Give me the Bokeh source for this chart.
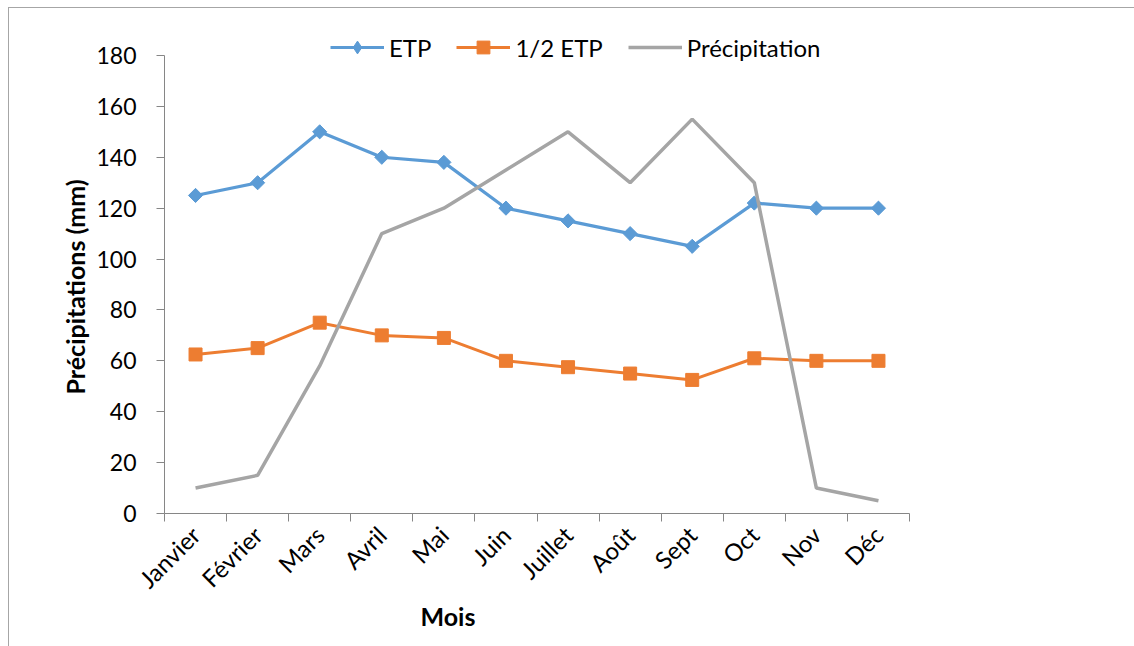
from bokeh.plotting import figure
from bokeh.models import (Range1d, LinearAxis, FixedTicker, Legend, LegendItem, Title,
                          ColumnDataSource)
from bokeh.embed import file_html
from bokeh.resources import INLINE
from math import pi

# Monthly data (mm)
months = ["Janvier", "Février", "Mars", "Avril", "Mai", "Juin",
          "Juillet", "Août", "Sept", "Oct", "Nov", "Déc"]
etp = [125, 130, 150, 140, 138, 120, 115, 110, 105, 122, 120, 120]
half_etp = [62.5, 65, 75, 70, 69, 60, 57.5, 55, 52.5, 61, 60, 60]
precip = [10, 15, 58, 110, 120, 135, 150, 130, 155, 130, 10, 5]
y_ticks = [0, 20, 40, 60, 80, 100, 120, 140, 160, 180]

FONT = "Lato"
BLUE = "#5B9BD5"
ORANGE = "#ED7D31"
GREY = "#A5A5A5"
AXIS = "#868686"

n = len(months)
xs = [i + 0.5 for i in range(n)]          # category centres
edges = [float(i) for i in range(n + 1)]  # category boundaries
src = ColumnDataSource(dict(x=xs, etp=etp, half=half_etp, pr=precip))

# The plotting frame reaches above the top tick so the legend sits inside it;
# the y axis line itself stops at the top tick.
Y_MAX = y_ticks[-1]
FRAME_TOP, AXIS_TOP, FRAME_BOTTOM = 17, 47, 505   # px inside the canvas
y_end = Y_MAX * (FRAME_BOTTOM - FRAME_TOP) / (FRAME_BOTTOM - AXIS_TOP)

p = figure(width=1126, height=639,
           x_range=Range1d(0, n), y_range=Range1d(0, y_end),
           output_backend="svg", toolbar_location=None,
           x_axis_location=None, y_axis_location=None,
           min_border_left=155, min_border_right=226,
           min_border_top=FRAME_TOP, min_border_bottom=639 - FRAME_BOTTOM)
p.margin = (7, 0, 0, 8)
p.styles = {"border-top": "1px solid #a6a6a6", "border-left": "1px solid #a6a6a6"}
p.outline_line_color = None
p.xgrid.visible = False
p.ygrid.visible = False
p.background_fill_color = "white"
p.border_fill_color = "white"

# y axis
yaxis = LinearAxis(ticker=FixedTicker(ticks=y_ticks), bounds=(0, Y_MAX))
yaxis.axis_line_color = AXIS
yaxis.major_tick_line_color = AXIS
yaxis.major_tick_out = 8
yaxis.major_tick_in = 0
yaxis.minor_tick_line_color = None
yaxis.major_label_text_font = FONT
yaxis.major_label_text_font_size = "23px"
yaxis.major_label_text_color = "black"
yaxis.major_label_standoff = 20
p.add_layout(yaxis, "left")

# y axis title, centred on the axis line rather than the whole frame
p.add_layout(Title(text="Précipitations (mm)", align="left", offset=119, standoff=8,
                   text_font=FONT, text_font_size="25px", text_font_style="bold",
                   text_color="black"), "left")

# x axis: labels at centres, ticks at boundaries
xaxis = LinearAxis(ticker=FixedTicker(ticks=xs, minor_ticks=edges))
xaxis.major_label_overrides = {x: m for x, m in zip(xs, months)}
xaxis.axis_line_color = AXIS
xaxis.major_tick_line_color = None
xaxis.minor_tick_line_color = AXIS
xaxis.minor_tick_out = 8
xaxis.minor_tick_in = 0
xaxis.major_label_orientation = pi / 4
xaxis.major_label_text_font = FONT
xaxis.major_label_text_font_size = "24px"
xaxis.major_label_text_color = "black"
xaxis.major_label_standoff = 9
p.add_layout(xaxis, "below")

# x axis title, set left of centre
p.add_layout(Title(text="Mois", align="left", offset=256, standoff=-15,
                   text_font=FONT, text_font_size="25px", text_font_style="bold",
                   text_color="black"), "below")

# series
r_etp_l = p.line("x", "etp", source=src, line_color=BLUE, line_width=3.2)
p.scatter("x", "etp", source=src, marker="square", angle=pi / 4, size=10,
          fill_color=BLUE, line_color=BLUE)
r_half_l = p.line("x", "half", source=src, line_color=ORANGE, line_width=3)
r_half_m = p.scatter("x", "half", source=src, marker="square", size=13,
                     fill_color=ORANGE, line_color=ORANGE)
r_pr = p.line("x", "pr", source=src, line_color=GREY, line_width=3.5)

# legend swatch for the ETP diamonds: zero size in the frame, sized by the legend
r_etp_key = p.scatter("x", "etp", source=src, marker="diamond", size=0,
                      fill_color=BLUE, line_color=BLUE)

legend = Legend(items=[
    LegendItem(label="ETP", renderers=[r_etp_l, r_etp_key]),
    LegendItem(label="1/2 ETP", renderers=[r_half_l, r_half_m]),
    LegendItem(label="Précipitation", renderers=[r_pr]),
], orientation="horizontal", location=(166, 450),
    padding=0, margin=0, spacing=25, glyph_width=54, glyph_height=32,
    label_standoff=5, label_text_font=FONT, label_text_font_size="24px",
    label_text_color="black", border_line_color=None, background_fill_alpha=0)
p.add_layout(legend)

open("out.html", "w").write(file_html(p, INLINE))
